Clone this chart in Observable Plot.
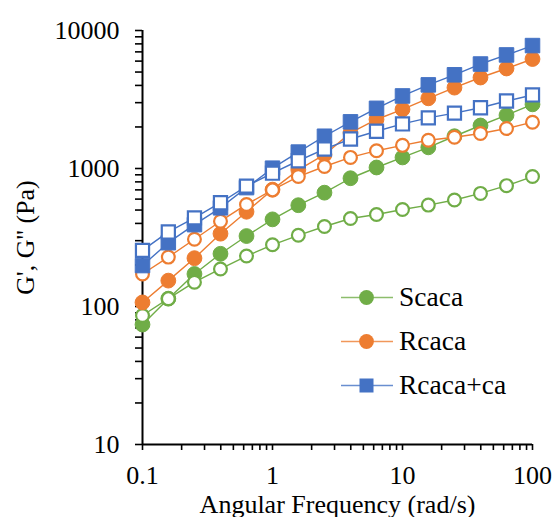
<!DOCTYPE html>
<html>
<head>
<meta charset="utf-8">
<script src="https://cdn.jsdelivr.net/npm/d3@7"></script>
<script src="https://cdn.jsdelivr.net/npm/@observablehq/plot@0.6"></script>
<style>
  html, body { margin: 0; padding: 0; background: #fff; }
  #wrap { position: relative; width: 553px; height: 517px; font-family: "Liberation Serif", Times, serif; }
  #legend { position: absolute; left: 341px; top: 275px; }
  .row { display: flex; align-items: center; height: 44px; }
  .row span { font-family: "Liberation Serif", Times, serif; font-size: 27.5px; color: #000; margin-left: 6px; line-height: 1; }
</style>
</head>
<body>
<div id="wrap"></div>
<script>
// Angular frequency sweep (rad/s)
const freq = [0.1, 0.158, 0.251, 0.398, 0.631, 1, 1.58, 2.51, 3.98, 6.31, 10, 15.8, 25.1, 39.8, 63.1, 100];

// Storage modulus G' and loss modulus G'' (Pa) per sample
const scacaG1   = [74, 114, 172, 241, 324, 428, 542, 668, 850, 1017, 1203, 1423, 1713, 2049, 2437, 2917];
const scacaG2   = [86, 114, 150, 187, 232, 280, 328, 380, 434, 464, 505, 543, 591, 660, 751, 874];
const rcacaG1   = [107, 154, 224, 337, 486, 703, 978, 1259, 1811, 2266, 2682, 3226, 3855, 4563, 5306, 6215];
const rcacaG2   = [172, 228, 307, 415, 549, 700, 874, 1034, 1203, 1346, 1472, 1601, 1684, 1792, 1948, 2166];
const rcacaCaG1 = [198, 290, 392, 519, 727, 1005, 1315, 1713, 2178, 2729, 3355, 4036, 4775, 5715, 6651, 7775];
const rcacaCaG2 = [255, 347, 439, 565, 745, 925, 1138, 1383, 1636, 1862, 2104, 2328, 2519, 2755, 3083, 3412];

const sampleNames = ["Scaca", "Rcaca", "Rcaca+ca"];
const xTickLabels = [0.1, 1, 10, 100];
const yTickLabels = [10, 100, 1000, 10000];

const colors = {"Scaca": "#70AD47", "Rcaca": "#ED7D31", "Rcaca+ca": "#4472C4"};
const symbols = {"Scaca": "circle", "Rcaca": "circle", "Rcaca+ca": "square"};

const series = [
  {sample: "Scaca", modulus: "G'", values: scacaG1},
  {sample: "Scaca", modulus: "G''", values: scacaG2},
  {sample: "Rcaca", modulus: "G'", values: rcacaG1},
  {sample: "Rcaca", modulus: "G''", values: rcacaG2},
  {sample: "Rcaca+ca", modulus: "G'", values: rcacaCaG1},
  {sample: "Rcaca+ca", modulus: "G''", values: rcacaCaG2}
];

const marks = [];
for (const s of series) {
  const rows = freq.map((f, i) => ({f, v: s.values[i]}));
  const c = colors[s.sample];
  const sym = symbols[s.sample];
  const filled = s.modulus === "G'";
  const r = sym === "square" ? (filled ? 8.2 : 7.4) : (filled ? 7.4 : 6.4);
  marks.push(Plot.line(rows, {x: "f", y: "v", stroke: c, strokeWidth: 1.4}));
  marks.push(Plot.dot(rows, {
    x: "f", y: "v", symbol: sym, r,
    fill: filled ? c : "white",
    stroke: c, strokeWidth: filled ? 1 : 2.2
  }));
}

const chart = Plot.plot({
  width: 553,
  height: 517,
  marginLeft: 142,
  marginRight: 21,
  marginTop: 30,
  marginBottom: 73,
  style: {fontFamily: "Liberation Serif, Times, serif", fontSize: "26px", color: "#000", background: "#fff"},
  x: {type: "log", domain: [0.1, 100], label: null},
  y: {type: "log", domain: [10, 10000], label: null},
  marks: [
    // minor + major tick marks
    Plot.axisX({ticks: 10, tickSize: 6, tickFormat: () => "", strokeWidth: 1.6}),
    Plot.axisY({ticks: 10, tickSize: 7, tickFormat: () => "", strokeWidth: 1.6}),
    // tick labels
    Plot.axisX(xTickLabels, {tickSize: 0, tickPadding: 21, tickFormat: d => String(d)}),
    Plot.axisY(yTickLabels, {tickSize: 0, tickPadding: 23, tickFormat: d => String(d)}),
    // axis lines
    Plot.ruleY([10], {stroke: "#000", strokeWidth: 2}),
    Plot.ruleX([0.1], {stroke: "#000", strokeWidth: 2}),
    ...marks,
    // axis titles
    Plot.text(["Angular Frequency (rad/s)"], {text: d => d, frameAnchor: "bottom", dy: 68, lineAnchor: "bottom", textAnchor: "middle", fill: "#000"}),
    Plot.text(["G', G'' (Pa)"], {text: d => d, frameAnchor: "left", dx: -117, rotate: -90, textAnchor: "middle", lineAnchor: "middle", fill: "#000"})
  ]
});

const wrap = document.getElementById("wrap");
wrap.appendChild(chart);

// legend: one row per sample, line with filled marker
const legend = document.createElement("div");
legend.id = "legend";
for (const name of sampleNames) {
  const c = colors[name];
  const row = document.createElement("div");
  row.className = "row";
  const markerSvg = symbols[name] === "square"
    ? `<rect x="18.5" y="3.5" width="14" height="14" fill="${c}"/>`
    : `<circle cx="25.5" cy="10.5" r="7.4" fill="${c}"/>`;
  row.innerHTML = `<svg width="52" height="21"><line x1="0" x2="52" y1="10.5" y2="10.5" stroke="${c}" stroke-opacity="0.8" stroke-width="1.4"/>${markerSvg}</svg><span>${name}</span>`;
  legend.appendChild(row);
}
wrap.appendChild(legend);
</script>
</body>
</html>
